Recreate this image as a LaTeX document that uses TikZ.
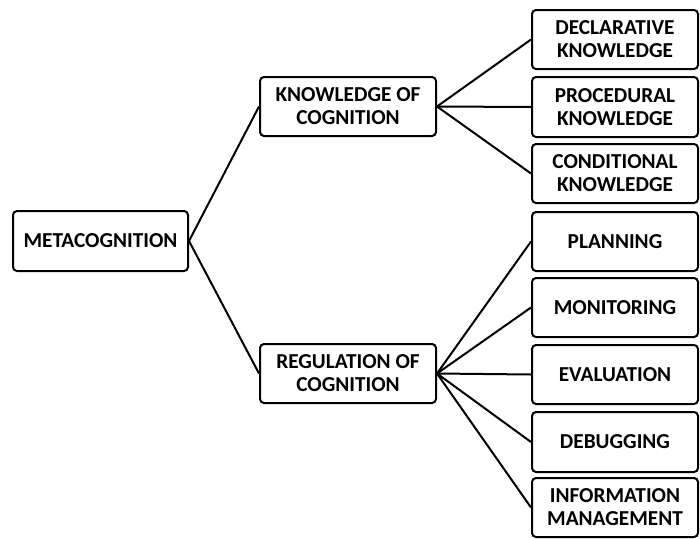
\documentclass[tikz,border=0pt]{standalone}
\usepackage{fontspec}
\setmainfont{Carlito}
\begin{document}
\begin{tikzpicture}[x=1pt,y=-1pt,
  box/.style={draw=black,line width=2pt,rounded corners=4pt,fill=white,inner sep=0pt,
    align=center,font=\bfseries\fontsize{21.3}{23}\selectfont},
  link/.style={line width=2pt}]
\useasboundingbox (0,0) rectangle (700,538);
\newcommand{\bx}[6]{\node[box,minimum width=#4-#2,minimum height=#5-#3] (#1) at ({(#2+#4)/2},{(#3+#5)/2}) {#6};}
\bx{meta}{13}{211}{188}{271}{METACOGNITION}
\bx{know}{260}{77}{436}{136}{KNOWLEDGE OF\\COGNITION}
\bx{reg}{260}{344}{436}{403}{REGULATION OF\\COGNITION}
\bx{decl}{532}{10}{698}{69}{DECLARATIVE\\KNOWLEDGE}
\bx{proc}{532}{77}{698}{137}{PROCEDURAL\\KNOWLEDGE}
\bx{cond}{532}{144}{698}{203}{CONDITIONAL\\KNOWLEDGE}
\bx{plan}{532}{212}{698}{271}{PLANNING}
\bx{mon}{532}{278}{698}{337}{MONITORING}
\bx{eval}{532}{345}{698}{404}{EVALUATION}
\bx{debug}{532}{412}{698}{472}{DEBUGGING}
\bx{info}{532}{478}{698}{537}{INFORMATION\\MANAGEMENT}
\foreach \c in {know,reg} \draw[link] (meta.east) -- (\c.west);
\foreach \c in {decl,proc,cond} \draw[link] (know.east) -- (\c.west);
\foreach \c in {plan,mon,eval,debug,info} \draw[link] (reg.east) -- (\c.west);
\end{tikzpicture}
\end{document}
